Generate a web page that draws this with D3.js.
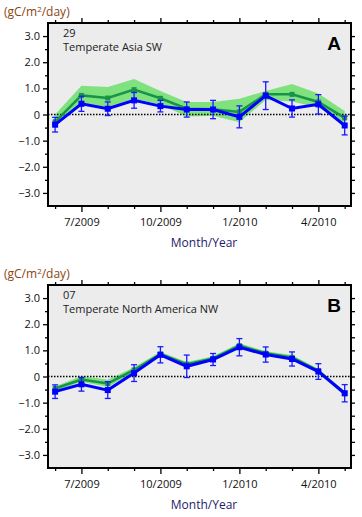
<!DOCTYPE html>
<html>
<head>
<meta charset="utf-8">
<script src="https://cdn.jsdelivr.net/npm/d3@7"></script>
<style>
  body { margin: 0; background: #fff; }
  svg { display: block; font-family: "Open Sans", "Noto Sans", sans-serif; }
</style>
</head>
<body>
<div id="chart"></div>
<script>
// months Jun 2009 .. May 2010
const months = ["6/2009", "7/2009", "8/2009", "9/2009", "10/2009", "11/2009", "12/2009", "1/2010", "2/2010", "3/2010", "4/2010", "5/2010"];
const majorLabels = {1: "7/2009", 4: "10/2009", 7: "1/2010", 10: "4/2010"};
const yTicks = [3, 2, 1, 0, -1, -2, -3];

// Panel A - 29 Temperate Asia SW
const blueA = [-0.39, 0.41, 0.22, 0.54, 0.32, 0.19, 0.19, -0.09, 0.72, 0.23, 0.39, -0.42];
const blueErrA = [0.28, 0.29, 0.26, 0.30, 0.22, 0.29, 0.35, 0.42, 0.53, 0.33, 0.37, 0.36];
const greenA = [-0.28, 0.73, 0.63, 0.95, 0.62, 0.22, 0.20, 0.10, 0.77, 0.77, 0.48, -0.13];
const bandHiA = [0.00, 1.10, 1.05, 1.36, 0.90, 0.48, 0.48, 0.60, 0.90, 1.17, 0.80, 0.13];
const bandLoA = [-0.45, 0.40, 0.25, 0.60, 0.38, -0.08, -0.05, -0.30, 0.55, 0.50, 0.26, -0.32];

// Panel B - 07 Temperate North America NW
const blueB = [-0.58, -0.30, -0.52, 0.13, 0.83, 0.39, 0.65, 1.12, 0.84, 0.67, 0.19, -0.64];
const blueErrB = [0.26, 0.26, 0.32, 0.32, 0.31, 0.43, 0.23, 0.33, 0.29, 0.27, 0.30, 0.33];
const greenB = [-0.46, -0.12, -0.27, 0.25, 0.86, 0.47, 0.69, 1.18, 0.89, 0.73, 0.22, -0.66];
const bandHiB = [-0.38, 0.02, -0.12, 0.35, 0.95, 0.55, 0.77, 1.27, 0.97, 0.82, 0.30, -0.56];
const bandLoB = [-0.56, -0.20, -0.40, 0.15, 0.77, 0.40, 0.62, 1.10, 0.82, 0.65, 0.14, -0.75];

const width = 362, height = 517;
const svg = d3.select("#chart").append("svg")
    .attr("width", width)
    .attr("height", height);

const x = d3.scaleLinear().domain([-0.27, 11.24]).range([48, 351]);

function drawPanel(top, num, name, letter, blue, blueErr, green, bandHi, bandLo) {
    const y = d3.scaleLinear().domain([-3.5, 3.5]).range([top + 183, top]);
    const g = svg.append("g");
    const idx = d3.range(months.length);

    g.append("rect")
        .attr("x", 48).attr("y", top)
        .attr("width", 303).attr("height", 183)
        .attr("fill", "#ececec");

    // confidence band
    g.append("path")
        .datum(idx)
        .attr("fill", "#80e27e")
        .attr("d", d3.area()
            .x(i => x(i))
            .y0(i => y(bandLo[i]))
            .y1(i => y(bandHi[i])));

    // zero line
    g.append("line")
        .attr("x1", 48).attr("x2", 351)
        .attr("y1", y(0)).attr("y2", y(0))
        .attr("stroke", "#000")
        .attr("stroke-width", 1.5)
        .attr("stroke-dasharray", "1.5,1.5");

    // green series
    g.append("path")
        .datum(idx)
        .attr("fill", "none")
        .attr("stroke", "#169447")
        .attr("stroke-width", 2.5)
        .attr("d", d3.line().x(i => x(i)).y(i => y(green[i])));
    g.selectAll(".gm").data(idx).enter().append("rect")
        .attr("x", i => x(i) - 2.5).attr("y", i => y(green[i]) - 2.5)
        .attr("width", 5).attr("height", 5)
        .attr("fill", "#169447");

    // blue error bars
    const eb = g.selectAll(".eb").data(idx).enter().append("g")
        .attr("stroke", "#1a1aff").attr("stroke-width", 1.3);
    eb.append("line")
        .attr("x1", i => x(i)).attr("x2", i => x(i))
        .attr("y1", i => y(blue[i] + blueErr[i])).attr("y2", i => y(blue[i] - blueErr[i]));
    eb.append("line")
        .attr("x1", i => x(i) - 3).attr("x2", i => x(i) + 3)
        .attr("y1", i => y(blue[i] + blueErr[i])).attr("y2", i => y(blue[i] + blueErr[i]));
    eb.append("line")
        .attr("x1", i => x(i) - 3).attr("x2", i => x(i) + 3)
        .attr("y1", i => y(blue[i] - blueErr[i])).attr("y2", i => y(blue[i] - blueErr[i]));

    // blue series
    g.append("path")
        .datum(idx)
        .attr("fill", "none")
        .attr("stroke", "#0000ff")
        .attr("stroke-width", 3)
        .attr("d", d3.line().x(i => x(i)).y(i => y(blue[i])));
    g.selectAll(".bm").data(idx).enter().append("rect")
        .attr("x", i => x(i) - 3).attr("y", i => y(blue[i]) - 3)
        .attr("width", 6).attr("height", 6)
        .attr("fill", "#0000ff");

    // axes
    g.append("g").attr("transform", "translate(48,0)")
        .call(d3.axisLeft(y).tickValues(yTicks).tickSize(5).tickPadding(3)
            .tickFormat(d => d === 0 ? "0" : d3.format(".1f")(d)));
    g.append("g").attr("transform", "translate(48,0)")
        .call(d3.axisLeft(y).tickValues([2.5, 1.5, 0.5, -0.5, -1.5, -2.5]).tickSize(3).tickFormat(""));
    g.append("g").attr("transform", "translate(351,0)")
        .call(d3.axisRight(y).tickValues(d3.range(-3, 3.01, 0.5)).tickSize(4).tickFormat(""));
    g.append("g").attr("transform", `translate(0,${top + 183})`)
        .call(d3.axisBottom(x).tickValues([1, 4, 7, 10]).tickSize(6).tickPadding(6)
            .tickFormat(i => majorLabels[i]));
    g.append("g").attr("transform", `translate(0,${top + 183})`)
        .call(d3.axisBottom(x).tickValues(idx.filter(i => !majorLabels[i])).tickSize(3).tickFormat(""));
    g.append("g").attr("transform", `translate(0,${top})`)
        .call(d3.axisTop(x).tickValues([1, 4, 7, 10]).tickSize(5).tickFormat(""));
    g.append("g").attr("transform", `translate(0,${top})`)
        .call(d3.axisTop(x).tickValues(idx.filter(i => !majorLabels[i])).tickSize(3).tickFormat(""));

    g.selectAll(".domain").remove();
    g.selectAll(".tick line").attr("stroke", "#000").attr("stroke-width", 1.3);
    g.selectAll(".tick text")
        .attr("font-family", "'Open Sans', sans-serif")
        .attr("font-size", 11)
        .attr("fill", "#111");

    g.append("rect")
        .attr("x", 48).attr("y", top)
        .attr("width", 303).attr("height", 183)
        .attr("fill", "none")
        .attr("stroke", "#000")
        .attr("stroke-width", 2);

    // labels
    const unit = g.append("text")
        .attr("x", 4).attr("y", top - 7)
        .attr("font-size", 12)
        .attr("fill", "#8c4512");
    unit.append("tspan").text("(gC/m");
    unit.append("tspan").attr("font-size", 8).attr("dy", -4).text("2");
    unit.append("tspan").attr("dy", 4).text("/day)");

    g.append("text")
        .attr("x", 63).attr("y", top + 14)
        .attr("font-size", 11).attr("fill", "#222")
        .text(num);
    g.append("text")
        .attr("x", 63).attr("y", top + 28)
        .attr("font-size", 11).attr("fill", "#222")
        .text(name);
    g.append("text")
        .attr("x", 341).attr("y", top + 26.5)
        .attr("text-anchor", "end")
        .attr("font-family", "'Liberation Sans', Arial, sans-serif")
        .attr("font-weight", "bold")
        .attr("font-size", 19)
        .attr("fill", "#000")
        .text(letter);

    g.append("text")
        .attr("x", 204).attr("y", top + 224)
        .attr("text-anchor", "middle")
        .attr("font-size", 12)
        .attr("fill", "#231c6b")
        .text("Month/Year");
}

drawPanel(23, "29", "Temperate Asia SW", "A", blueA, blueErrA, greenA, bandHiA, bandLoA);
drawPanel(285, "07", "Temperate North America NW", "B", blueB, blueErrB, greenB, bandHiB, bandLoB);
</script>
</body>
</html>
